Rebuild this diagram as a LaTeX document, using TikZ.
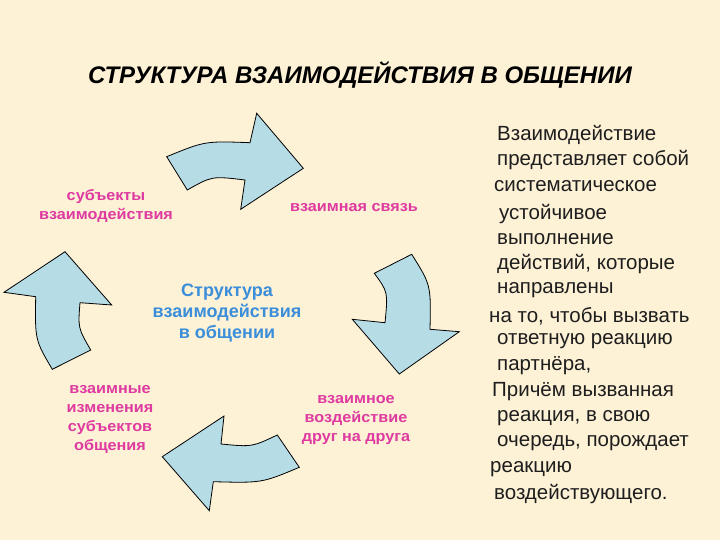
\documentclass[tikz,border=0pt]{standalone}
\usepackage{fontspec}
\setmainfont{Liberation Sans}
\newfontfamily\lblfont[FakeStretch=1.08]{Liberation Sans}
\definecolor{bgc}{RGB}{253,241,214}
\definecolor{arrowc}{RGB}{182,220,230}
\definecolor{magc}{RGB}{222,58,160}
\definecolor{bluec}{RGB}{58,142,218}
\definecolor{txtc}{RGB}{30,30,30}
\begin{document}
\begin{tikzpicture}[x=1pt,y=-1pt,
  cyclearrow/.style={draw=black,line width=0.8pt,fill=arrowc,line join=miter},
  lbl/.style={text=magc,font=\lblfont\fontsize{15}{19}\selectfont\bfseries,align=center,inner sep=0pt},
  ctr/.style={text=bluec,font=\fontsize{18}{21}\selectfont\bfseries,align=center,inner sep=0pt},
  rtxt/.style={text=txtc,font=\fontsize{20.5}{22}\selectfont,anchor=west,inner sep=0pt}]
\fill[bgc] (0,0) rectangle (720,540);
\useasboundingbox (0,0) rectangle (720,540);
% title
\node[font=\fontsize{24}{26}\selectfont\bfseries\itshape,inner sep=0pt] (title) at (360,75) {СТРУКТУРА ВЗАИМОДЕЙСТВИЯ В ОБЩЕНИИ};
% arrows
\draw[cyclearrow] (166.7,156.7) .. controls (205,141) .. (250,142.7) -- (256.7,113.3) -- (303.3,168.3) -- (240.7,209.3) -- (245,180) .. controls (212,176) .. (187.3,190) -- cycle;
\draw[cyclearrow] (374.3,273.3) .. controls (388,292) .. (385,322.7) -- (352.3,319.3) -- (399.3,374) -- (459.3,331.7) -- (430,329.3) .. controls (431,285) .. (411.7,254.3) -- cycle;
\draw[cyclearrow] (277.3,435) -- (299.3,467.3) .. controls (262,483) .. (213.3,481.7) -- (209.3,510.7) -- (162.3,456.7) -- (224,416) -- (221,444) .. controls (252,447) .. (277.3,435) -- cycle;
\draw[cyclearrow] (52.3,369.3) -- (90.7,350) .. controls (78,328) .. (80,302.7) -- (111.7,305) -- (65,251.7) -- (4,292.3) -- (35.7,296.7) .. controls (35,340) .. (52.3,369.3) -- cycle;
% labels
\node[lbl] (subj) at (106,206) {субъекты\\взаимодействия};
\node[lbl] (link) at (354,208) {взаимная связь};
\node[lbl] (chg) at (110,419) {взаимные\\изменения\\субъектов\\общения};
\node[lbl] (infl) at (356,420) {взаимное\\воздействие\\друг на друга};
\node[ctr] (center) at (227,313) {Структура\\взаимодействия\\в общении};
% right text
\node[rtxt] (r1) at (497,135) {Взаимодействие};
\node[rtxt] (r2) at (497,160) {представляет собой};
\node[rtxt] (r3) at (494,186) {систематическое};
\node[rtxt] (r4) at (499,214) {устойчивое};
\node[rtxt] (r5) at (497,239) {выполнение};
\node[rtxt] (r6) at (497,264) {действий, которые};
\node[rtxt] (r7) at (497,290) {направлены};
\node[rtxt] (r8) at (489,316) {на то, чтобы вызвать};
\node[rtxt] (r9) at (497,341) {ответную реакцию};
\node[rtxt] (r10) at (497,366) {партнёра,};
\node[rtxt] (r11) at (492,392) {Причём вызванная};
\node[rtxt] (r12) at (497,418) {реакция, в свою};
\node[rtxt] (r13) at (497,443) {очередь, порождает};
\node[rtxt] (r14) at (490,469) {реакцию};
\node[rtxt] (r15) at (494,494) {воздействующего.};
\end{tikzpicture}
\end{document}
